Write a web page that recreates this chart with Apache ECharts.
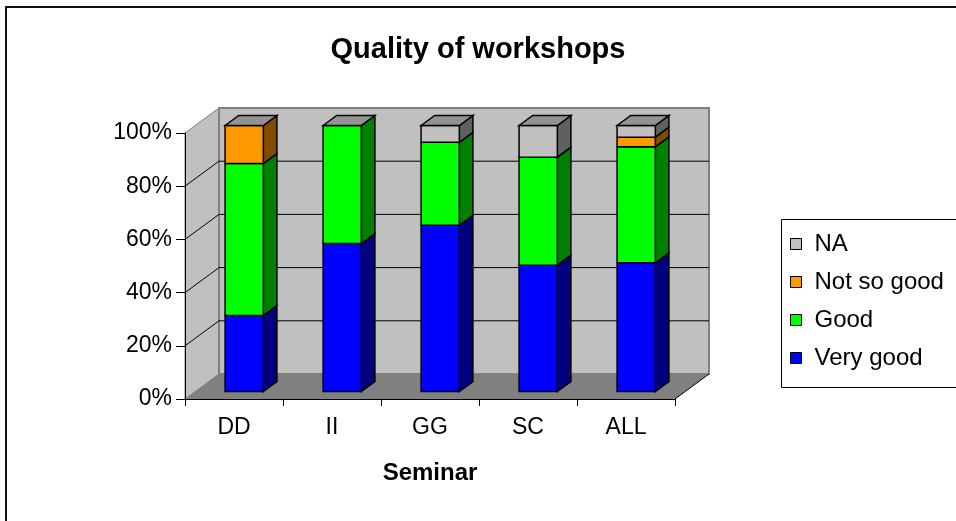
<!DOCTYPE html>
<html>
<head>
<meta charset="utf-8">
<script src="https://cdn.jsdelivr.net/npm/echarts@6/dist/echarts.min.js"></script>
<style>
  html, body { margin: 0; padding: 0; background: #fff; }
  #chart { width: 956px; height: 521px; }
</style>
</head>
<body>
<div id="chart"></div>
<script>
// Workshop ratings per seminar, in percent of answers
const categories = ['DD', 'II', 'GG', 'SC', 'ALL'];
const veryGood  = [28.6, 55.6, 62.5, 47.5, 48.4];
const good      = [57.1, 44.4, 31.2, 40.6, 43.6];
const notSoGood = [14.3, 0, 0, 0, 3.6];
const na        = [0, 0, 6.3, 11.9, 4.4];
const yTicks = [0, 20, 40, 60, 80, 100];

const FONT = "'Liberation Sans', Arial, sans-serif";
// oblique depth of the plot box (pixels) and where the columns sit in it
const DEPTH = { dx: 34, dy: -25 };
const COL_FRONT = 0.3, COL_BACK = 0.7, COL_WIDTH = 0.39;

const seriesDefs = [
  { name: 'Very good',   values: veryGood,  front: '#0000ff', side: '#000080' },
  { name: 'Good',        values: good,      front: '#00ff00', side: '#008000' },
  { name: 'Not so good', values: notSoGood, front: '#ff9900', side: '#804c00' },
  { name: 'NA',          values: na,        front: '#c0c0c0', side: '#606060', top: '#939393' }
];

// cumulative base/top of each stacked segment
const running = categories.map(() => 0);
seriesDefs.forEach(def => {
  def.data = def.values.map((v, i) => {
    const base = running[i];
    running[i] += v;
    return [i, base, running[i], v];
  });
});

const LINE = { stroke: '#000', lineWidth: 1.5 };

function columnRenderer(def) {
  return function (params, api) {
    const c = api.value(0), b = api.value(1), t = api.value(2);
    const pb = api.coord([c, b]);
    const pt = api.coord([c, t]);
    const w = api.size([1, 0])[0] * COL_WIDTH;
    const ox = DEPTH.dx * COL_FRONT, oy = DEPTH.dy * COL_FRONT;
    const ddx = DEPTH.dx * (COL_BACK - COL_FRONT), ddy = DEPTH.dy * (COL_BACK - COL_FRONT);
    const x0 = pb[0] - w / 2 + ox, x1 = x0 + w;
    const yb = pb[1] + oy, yt = pt[1] + oy;
    const children = [];
    if (t - b > 0) {
      children.push({
        type: 'polygon',
        shape: { points: [[x1, yt], [x1 + ddx, yt + ddy], [x1 + ddx, yb + ddy], [x1, yb]] },
        style: Object.assign({ fill: def.side }, LINE)
      });
      children.push({
        type: 'rect',
        shape: { x: x0, y: yt, width: w, height: yb - yt },
        style: Object.assign({ fill: def.front }, LINE)
      });
    }
    if (def.top) {
      children.push({
        type: 'polygon',
        shape: { points: [[x0, yt], [x0 + ddx, yt + ddy], [x1 + ddx, yt + ddy], [x1, yt]] },
        style: Object.assign({ fill: def.top }, LINE)
      });
    }
    return { type: 'group', children: children };
  };
}

function wallRenderer(params, api) {
  const cs = params.coordSys;
  const xl = cs.x, xr = cs.x + cs.width;
  const y0 = api.coord([0, 0])[1];
  const y100 = api.coord([0, 100])[1];
  const dx = DEPTH.dx, dy = DEPTH.dy;
  const children = [
    { type: 'polygon', shape: { points: [[xl, y0], [xl, y100], [xl + dx, y100 + dy], [xl + dx, y0 + dy]] },
      style: { fill: '#c0c0c0', stroke: '#808080', lineWidth: 1 } },
    { type: 'rect', shape: { x: xl + dx, y: y100 + dy, width: xr - xl, height: y0 - y100 },
      style: { fill: '#c0c0c0', stroke: '#808080', lineWidth: 2 } },
    { type: 'polygon', shape: { points: [[xl, y0], [xr, y0], [xr + dx, y0 + dy], [xl + dx, y0 + dy]] },
      style: { fill: '#808080' } },
    { type: 'line', shape: { x1: xr, y1: y0, x2: xr + dx, y2: y0 + dy },
      style: { stroke: '#000', lineWidth: 1 } }
  ];
  yTicks.filter(v => v > 0 && v < 100).forEach(v => {
    const y = api.coord([0, v])[1];
    children.push({ type: 'line', shape: { x1: xl, y1: y, x2: xl + dx, y2: y + dy }, style: { stroke: '#000', lineWidth: 1 } });
    children.push({ type: 'line', shape: { x1: xl + dx, y1: y + dy, x2: xr + dx, y2: y + dy }, style: { stroke: '#000', lineWidth: 1 } });
  });
  return { type: 'group', children: children };
}

const chart = echarts.init(document.getElementById('chart'));

const series = [{
  type: 'custom',
  name: 'walls',
  renderItem: wallRenderer,
  data: [[0, 0]],
  z: 1,
  silent: true
}];
seriesDefs.forEach((def, k) => {
  series.push({
    type: 'custom',
    name: def.name,
    renderItem: columnRenderer(def),
    encode: { x: 0, y: [1, 2] },
    data: def.data,
    itemStyle: { color: def.front },
    z: 3 + k
  });
});

chart.setOption({
  animation: false,
  backgroundColor: '#fff',
  textStyle: { fontFamily: FONT },
  title: {
    text: 'Quality of workshops',
    left: 'center',
    top: 30,
    textStyle: { fontSize: 29, fontWeight: 'bold', color: '#000', fontFamily: FONT }
  },
  graphic: [
    { type: 'rect', shape: { x: 6, y: 7, width: 1000, height: 600 },
      style: { fill: 'none', stroke: '#111', lineWidth: 2 }, z: 0 },
    { type: 'rect', shape: { x: 781.5, y: 219.5, width: 200, height: 168 },
      style: { fill: '#fff', stroke: '#000', lineWidth: 1 }, z: 0 }
  ],
  legend: {
    orient: 'vertical',
    left: 785,
    top: 227,
    data: ['NA', 'Not so good', 'Good', 'Very good'],
    icon: 'rect',
    itemWidth: 11,
    itemHeight: 11,
    itemGap: 14,
    itemStyle: { borderColor: '#000', borderWidth: 1 },
    textStyle: { fontSize: 24, color: '#000', fontFamily: FONT, lineHeight: 24, padding: [0, 0, 0, 8] },
    selectedMode: false
  },
  grid: { left: 185, right: 281, top: 133, bottom: 122 },
  xAxis: {
    type: 'category',
    data: categories,
    z: 6,
    axisLine: { lineStyle: { color: '#000', width: 1 } },
    axisTick: { show: true, length: 7, lineStyle: { color: '#000' } },
    axisLabel: { fontSize: 23, color: '#000', margin: 17, fontFamily: FONT },
    name: 'Seminar',
    nameLocation: 'middle',
    nameGap: 62,
    nameTextStyle: { fontSize: 24, fontWeight: 'bold', color: '#000', fontFamily: FONT },
    splitLine: { show: false }
  },
  yAxis: {
    type: 'value',
    min: 0,
    max: 100,
    interval: 20,
    z: 6,
    axisLine: { show: true, lineStyle: { color: '#000', width: 1 } },
    axisTick: { show: true, length: 9, lineStyle: { color: '#000' } },
    axisLabel: { fontSize: 23, color: '#000', margin: 13, formatter: '{value}%', fontFamily: FONT },
    splitLine: { show: false }
  },
  series: series
});
</script>
</body>
</html>
